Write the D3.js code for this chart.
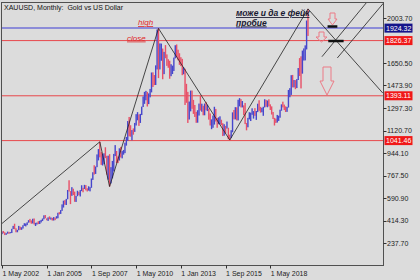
<!DOCTYPE html>
<html>
<head>
<meta charset="utf-8">
<script src="https://cdn.jsdelivr.net/npm/d3@7"></script>
<style>
  html, body { margin: 0; padding: 0; background: #dcdcdc; }
  svg { display: block; font-family: "Liberation Sans", Arial, sans-serif; }
</style>
</head>
<body>
<div id="chart"></div>
<script>
// monthly XAUUSD bars, May 2002 .. Aug 2020
var startMonth = "2002-05";
var firstOpen = 309;
var closes = [
    326, 318, 304, 312, 323, 317, 318, 347,
    368, 348, 335, 338, 364, 346, 354, 375, 385, 386, 397, 416,
    400, 397, 427, 387, 394, 395, 391, 408, 416, 428, 453, 438,
    422, 435, 428, 435, 417, 435, 429, 433, 473, 470, 495, 517,
    569, 556, 583, 654, 643, 614, 633, 624, 599, 604, 646, 632,
    650, 665, 663, 679, 659, 650, 665, 672, 743, 789, 783, 834,
    924, 972, 916, 864, 885, 928, 912, 833, 880, 718, 816, 869,
    928, 942, 916, 891, 978, 927, 954, 955, 1008, 1040, 1182, 1097,
    1081, 1118, 1113, 1179, 1213, 1245, 1181, 1248, 1308, 1357, 1386, 1421,
    1332, 1410, 1439, 1556, 1536, 1500, 1628, 1826, 1620, 1722, 1746, 1564,
    1737, 1697, 1669, 1664, 1560, 1598, 1614, 1692, 1772, 1719, 1712, 1675,
    1663, 1578, 1595, 1472, 1393, 1234, 1313, 1396, 1327, 1323, 1253, 1202,
    1240, 1326, 1284, 1296, 1250, 1327, 1282, 1287, 1210, 1171, 1182, 1199,
    1283, 1212, 1183, 1183, 1190, 1172, 1095, 1132, 1115, 1142, 1065, 1061,
    1117, 1238, 1233, 1293, 1215, 1322, 1351, 1309, 1316, 1273, 1173, 1146,
    1211, 1249, 1249, 1268, 1268, 1242, 1269, 1322, 1280, 1271, 1275, 1303,
    1345, 1318, 1325, 1315, 1299, 1253, 1224, 1202, 1192, 1215, 1222, 1282,
    1321, 1313, 1292, 1283, 1305, 1409, 1413, 1520, 1472, 1513, 1464, 1517,
    1589, 1585, 1577, 1687, 1730, 1781, 1975, 1968
];
var highs = [
    328, 332, 322, 315, 327, 325, 323, 349,
    372, 389, 353, 341, 372, 366, 361, 377, 393, 391, 400, 417,
    427, 415, 428, 430, 396, 398, 409, 412, 419, 430, 455, 457,
    431, 439, 447, 438, 435, 441, 437, 448, 475, 480, 496, 541,
    570, 574, 584, 654, 730, 645, 676, 664, 641, 607, 648, 640,
    653, 691, 671, 694, 692, 667, 683, 676, 744, 793, 848, 838,
    933, 975, 1032, 951, 937, 942, 989, 922, 923, 935, 833, 882,
    937, 1006, 960, 917, 981, 992, 959, 968, 1025, 1070, 1195, 1227,
    1162, 1124, 1137, 1180, 1249, 1265, 1247, 1251, 1308, 1388, 1424, 1432,
    1424, 1412, 1447, 1576, 1577, 1556, 1632, 1913, 1924, 1804, 1803, 1764,
    1738, 1791, 1718, 1680, 1668, 1641, 1630, 1693, 1790, 1796, 1755, 1727,
    1696, 1683, 1616, 1605, 1487, 1424, 1348, 1434, 1434, 1361, 1321, 1267,
    1280, 1332, 1392, 1331, 1315, 1332, 1345, 1323, 1292, 1255, 1208, 1238,
    1307, 1290, 1219, 1224, 1232, 1205, 1178, 1170, 1157, 1191, 1142, 1088,
    1123, 1263, 1282, 1304, 1303, 1362, 1375, 1367, 1352, 1318, 1337, 1180,
    1220, 1264, 1261, 1295, 1273, 1296, 1274, 1331, 1358, 1306, 1299, 1307,
    1366, 1361, 1356, 1366, 1326, 1310, 1266, 1220, 1214, 1243, 1237, 1284,
    1326, 1347, 1324, 1310, 1306, 1439, 1453, 1555, 1557, 1517, 1516, 1524,
    1611, 1689, 1703, 1748, 1765, 1789, 1984, 2075
];
var lows = [
    307, 314, 300, 302, 311, 310, 314, 316,
    347, 346, 322, 322, 338, 341, 341, 351, 372, 368, 378, 397,
    399, 389, 391, 383, 371, 383, 386, 387, 399, 410, 424, 432,
    416, 411, 424, 421, 414, 414, 417, 429, 432, 462, 466, 490,
    516, 538, 536, 581, 642, 543, 608, 614, 561, 560, 605, 613,
    603, 645, 636, 662, 651, 642, 649, 643, 671, 733, 775, 780,
    833, 886, 910, 851, 846, 857, 904, 774, 735, 681, 705, 745,
    800, 920, 865, 865, 885, 909, 902, 931, 943, 1002, 1040, 1075,
    1072, 1044, 1088, 1110, 1160, 1201, 1157, 1180, 1242, 1305, 1330, 1358,
    1309, 1328, 1381, 1420, 1462, 1477, 1478, 1600, 1532, 1600, 1668, 1523,
    1563, 1688, 1628, 1613, 1527, 1547, 1564, 1588, 1687, 1695, 1672, 1636,
    1626, 1555, 1562, 1321, 1338, 1180, 1207, 1271, 1291, 1251, 1227, 1181,
    1182, 1238, 1277, 1268, 1240, 1240, 1280, 1273, 1206, 1160, 1131, 1142,
    1167, 1191, 1142, 1170, 1170, 1162, 1077, 1080, 1098, 1136, 1052, 1046,
    1061, 1107, 1208, 1208, 1200, 1200, 1310, 1302, 1302, 1241, 1171, 1122,
    1146, 1208, 1195, 1244, 1214, 1236, 1204, 1265, 1275, 1261, 1264, 1236,
    1302, 1307, 1303, 1310, 1282, 1246, 1211, 1160, 1180, 1183, 1196, 1221,
    1276, 1302, 1281, 1266, 1267, 1301, 1382, 1400, 1459, 1459, 1445, 1454,
    1517, 1548, 1451, 1567, 1670, 1671, 1757, 1863
];

// axis labels
var priceTicks = [2003.70, 1650.50, 1473.90, 1297.30, 1120.70, 944.10, 767.50, 590.90, 414.30, 237.70];
var dateTicks = ["1 May 2002", "1 Jan 2005", "1 Sep 2007", "1 May 2010", "1 Jan 2013", "1 Sep 2015", "1 May 2018"];

// horizontal levels drawn on the chart
var levels = [
    { price: 1924.32, kind: "blue" },
    { price: 1826.37, kind: "red" },
    { price: 1393.11, kind: "red" },
    { price: 1041.46, kind: "red" }
];

// trend lines: [bar1, price1, bar2, price2]
var trendLines = [
    [-1.4, 378, 70, 1032],
    [70, 1032, 77, 681],
    [77, 681, 112, 1922],
    [112, 1922, 163, 1046],
    [163, 1046, 219, 2075],
    [219, 2075, 272.5, 1415],
    [229, 1700, 262, 2140],
    [240, 1690, 273, 2120]
];

var width = 420, height = 280;
var plotL = 1, plotR = 383, plotT = 2, plotB = 265;

var svg = d3.select("#chart").append("svg")
    .attr("width", width)
    .attr("height", height);

svg.append("rect")
    .attr("width", width)
    .attr("height", height)
    .attr("fill", "#dcdcdc");

var parseMonth = d3.timeParse("%Y-%m");
var parseTick = d3.timeParse("%d %b %Y");
var start = parseMonth(startMonth);
function monthIndex(d) {
    return d3.timeMonth.count(start, d);
}

var x = d3.scaleLinear().domain([0, 219]).range([2, 308]);
var y = d3.scaleLinear().domain([237.7, 2003.7]).range([243, 18]);

var bars = closes.map(function(c, i) {
    return { i: i, open: i === 0 ? firstOpen : closes[i - 1], high: highs[i], low: lows[i], close: c };
});

var plot = svg.append("g");
plot.append("clipPath").attr("id", "clip")
    .append("rect")
    .attr("x", plotL).attr("y", plotT)
    .attr("width", plotR - plotL).attr("height", plotB - plotT);

var inner = plot.append("g").attr("clip-path", "url(#clip)");

// level lines
inner.selectAll(".level").data(levels).enter().append("line")
    .attr("x1", plotL).attr("x2", plotR)
    .attr("y1", function(d) { return y(d.price); })
    .attr("y2", function(d) { return y(d.price); })
    .style("stroke", function(d) { return d.kind === "blue" ? "#8c8cd8" : "#e8484c"; })
    .style("stroke-width", function(d) { return d.kind === "blue" ? 2 : 1; });

// bars
inner.selectAll(".bar").data(bars).enter().append("rect")
    .attr("x", function(d) { return x(d.i) - 0.7; })
    .attr("width", 1.4)
    .attr("y", function(d) { return y(d.high); })
    .attr("height", function(d) { return Math.max(1, y(d.low) - y(d.high)); })
    .style("fill", function(d) { return d.close >= d.open ? "#4646cc" : "#e85068"; });

// trend lines
inner.selectAll(".trend").data(trendLines).enter().append("line")
    .attr("x1", function(d) { return x(d[0]); })
    .attr("y1", function(d) { return y(d[1]); })
    .attr("x2", function(d) { return x(d[2]); })
    .attr("y2", function(d) { return y(d[3]); })
    .style("stroke", "#202020")
    .style("stroke-width", 0.8);

// short black marks near the top
var marks = [[233, 240, 1937], [233.5, 244.5, 1823]];
inner.selectAll(".mark").data(marks).enter().append("line")
    .attr("x1", function(d) { return x(d[0]); })
    .attr("x2", function(d) { return x(d[1]); })
    .attr("y1", function(d) { return y(d[2]); })
    .attr("y2", function(d) { return y(d[2]); })
    .style("stroke", "#111")
    .style("stroke-width", 2.5);

// hollow down arrows
function arrowPath(cx, t, b, sw, hw) {
    var neck = t + (b - t) * 0.5;
    return "M" + (cx - sw) + "," + t + "L" + (cx + sw) + "," + t +
        "L" + (cx + sw) + "," + neck + "L" + (cx + hw) + "," + neck +
        "L" + cx + "," + b + "L" + (cx - hw) + "," + neck +
        "L" + (cx - sw) + "," + neck + "Z";
}
var arrows = [[332.5, 13, 25, 2.5, 4.5], [321.5, 32, 42, 2.5, 5.5], [327, 67, 95, 4, 7]];
inner.selectAll(".arrow").data(arrows).enter().append("path")
    .attr("d", function(d) { return arrowPath(d[0], d[1], d[2], d[3], d[4]); })
    .style("fill", "none")
    .style("stroke", "#ec7a86")
    .style("stroke-width", 1);

// text notes
var notes = [
    { text: "high", x: 138, y: 25, color: "#e02828", weight: "normal", size: 8 },
    { text: "close", x: 127, y: 40.5, color: "#e02828", weight: "normal", size: 8 },
    { text: "може и да е фейк", x: 236, y: 16, color: "#181830", weight: "bold", size: 8.5 },
    { text: "пробие", x: 236, y: 25.5, color: "#181830", weight: "bold", size: 8.5 }
];
inner.selectAll(".note").data(notes).enter().append("text")
    .attr("x", function(d) { return d.x; })
    .attr("y", function(d) { return d.y; })
    .text(function(d) { return d.text; })
    .style("font-size", function(d) { return d.size + "px"; })
    .style("font-style", "italic")
    .style("font-weight", function(d) { return d.weight; })
    .style("text-decoration", "underline")
    .style("fill", function(d) { return d.color; });

// frame
plot.append("rect")
    .attr("x", plotL + 0.5).attr("y", plotT + 0.5)
    .attr("width", plotR - plotL).attr("height", plotB - plotT)
    .style("fill", "none")
    .style("stroke", "#505050")
    .style("stroke-width", 1);

// title
svg.append("text")
    .attr("x", 4).attr("y", 10)
    .text("XAUUSD, Monthly:  Gold vs US Dollar")
    .style("white-space", "pre")
    .style("font-size", "7px")
    .style("fill", "#111");

// right axis
var yAxis = svg.append("g").attr("transform", "translate(" + (plotR + 0.5) + ",0)");
yAxis.selectAll(".tick").data(priceTicks).enter().append("line")
    .attr("x1", 0).attr("x2", 3)
    .attr("y1", function(d) { return Math.round(y(d)) + 0.5; })
    .attr("y2", function(d) { return Math.round(y(d)) + 0.5; })
    .style("stroke", "#303030");
yAxis.selectAll(".lbl").data(priceTicks).enter().append("text")
    .attr("x", 3.5)
    .attr("y", function(d) { return y(d) + 2.5; })
    .text(function(d) { return d3.format(".2f")(d); })
    .style("font-size", "7px")
    .style("fill", "#222");

// boxed level labels
var boxes = yAxis.selectAll(".box").data(levels).enter().append("g")
    .attr("transform", function(d) { return "translate(1," + y(d.price) + ")"; });
boxes.append("rect")
    .attr("x", 0).attr("y", -4.5)
    .attr("width", 28).attr("height", 9)
    .style("fill", function(d) { return d.kind === "blue" ? "#14148a" : "#f01818"; });
boxes.append("text")
    .attr("x", 1.5).attr("y", 2.5)
    .text(function(d) { return d3.format(".2f")(d.price); })
    .style("font-size", "7px")
    .style("fill", "#fff");

// bottom axis
var xAxis = svg.append("g").attr("transform", "translate(0," + (plotB + 0.5) + ")");
var tickIdx = dateTicks.map(function(t) { return monthIndex(parseTick(t)); });
xAxis.selectAll(".tick").data(tickIdx).enter().append("line")
    .attr("x1", function(d) { return Math.round(x(d)) + 0.5; })
    .attr("x2", function(d) { return Math.round(x(d)) + 0.5; })
    .attr("y1", 0).attr("y2", 3)
    .style("stroke", "#303030");
xAxis.selectAll(".lbl").data(dateTicks).enter().append("text")
    .attr("x", function(d, i) { return x(tickIdx[i]) + 0.5; })
    .attr("y", 10)
    .text(function(d) { return d; })
    .style("font-size", "7px")
    .style("fill", "#222");
</script>
</body>
</html>
